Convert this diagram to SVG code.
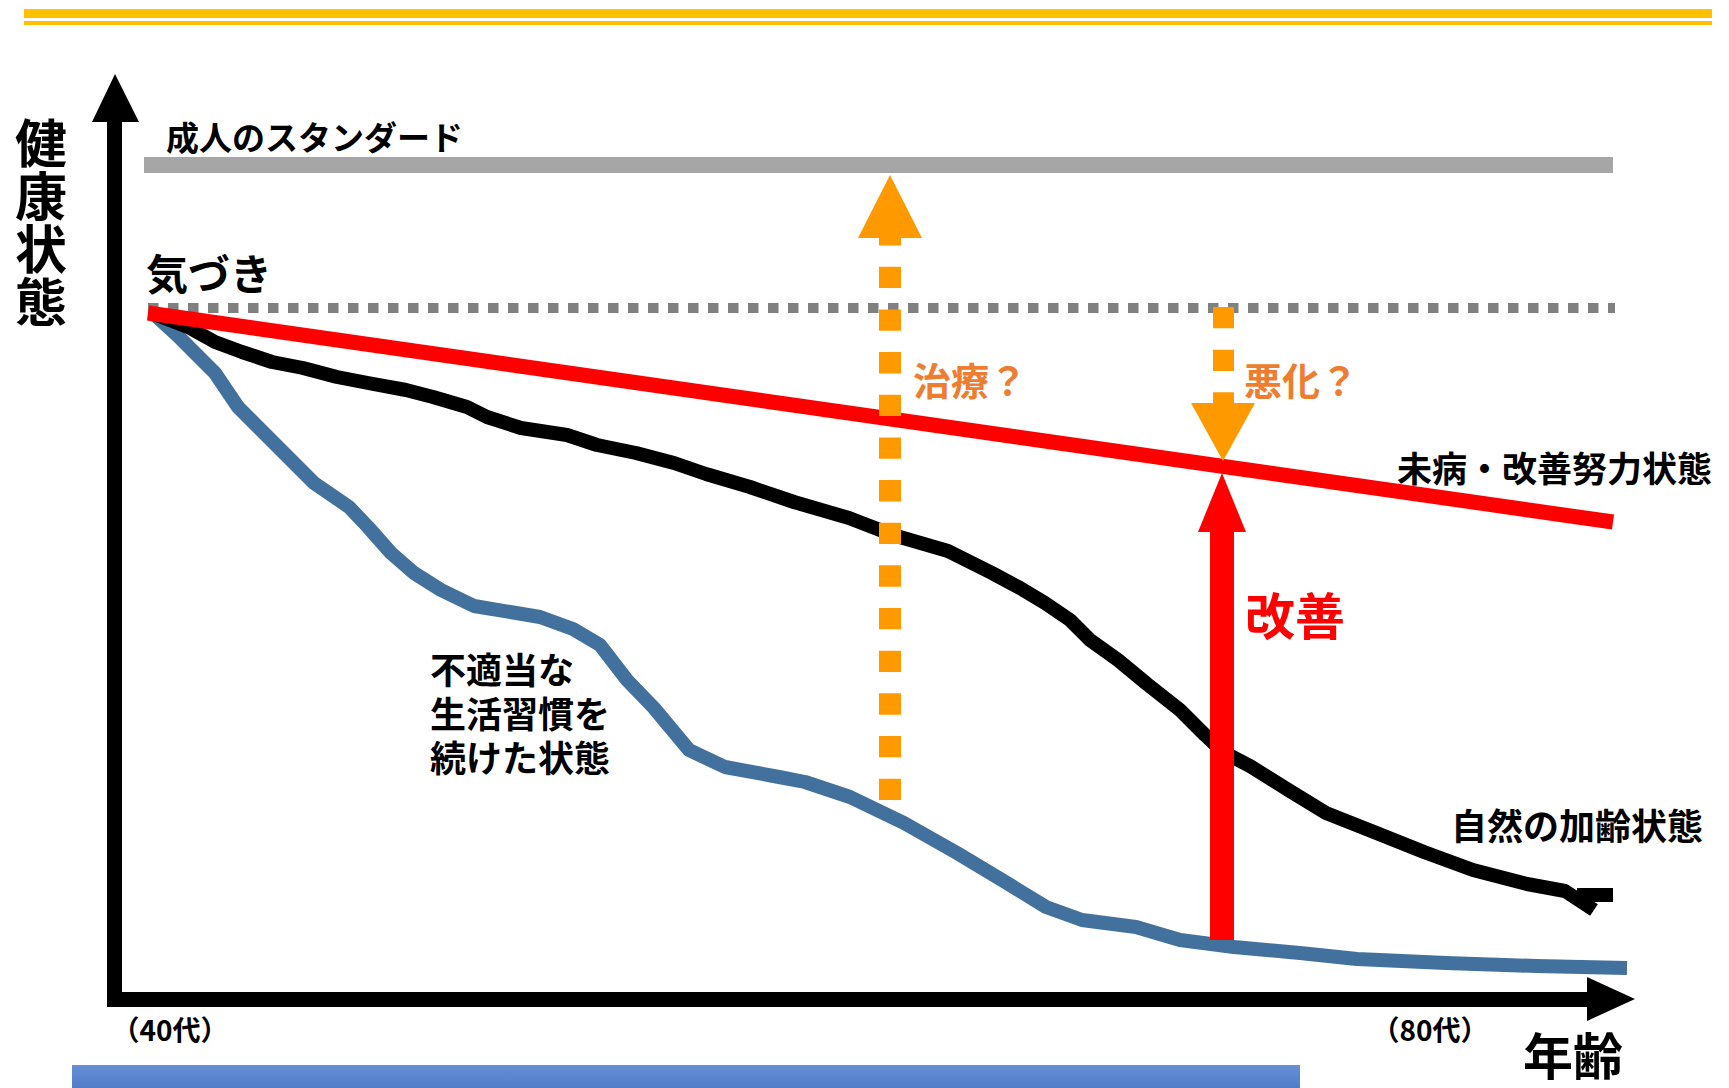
<svg xmlns="http://www.w3.org/2000/svg" width="1729" height="1088" viewBox="0 0 1729 1088">
<defs>
<style>
.t{font-family:"Noto Sans CJK JP","Noto Sans CJK SC",sans-serif;font-weight:bold;fill:#000}
.o{fill:#ED7D31}
.r{fill:#FF0000}
.curve{fill:none;stroke-width:14;stroke-linejoin:round;stroke-linecap:butt}
.orange{fill:#FF9900}
.vert{writing-mode:vertical-rl;text-orientation:upright}
</style>
<linearGradient id="bannerGrad" x1="0" y1="0" x2="0" y2="1">
<stop offset="0" stop-color="#6690D4"/>
<stop offset="1" stop-color="#4A77C7"/>
</linearGradient>
</defs>
<rect width="1729" height="1088" fill="#FFFFFF"/>
<g id="header">
<rect x="24" y="9" width="1688" height="9" fill="#FFC000"/>
<rect x="24" y="21" width="1688" height="4" fill="#FFC000"/>
</g>
<g id="reference-lines">
<rect x="144" y="157" width="1469" height="16" fill="#A6A6A6"/>
<line x1="148" y1="308" x2="1615" y2="308" stroke="#808080" stroke-width="10" stroke-dasharray="10.5 9.5"/>
</g>
<g id="curves">
<path id="blue-curve" class="curve" stroke="#41719C" d="M154,314 L177,335 L192,350 L215,373 L238,407 L261,430 L291,460 L314,483 L349,507 L368,527 L391,553 L414,573 L441,590 L474,606 L540,617 L573,629 L600,645 L627,680 L654,708 L689,750 L725,767 L779,777 L805,782 L850,797 L904,823 L957,853 L1002,880 L1046,907 L1082,920 L1136,927 L1180,940 L1234,947 L1300,953 L1357,959 L1446,963 L1536,966 L1627,968"/>
<path id="black-curve" class="curve" stroke="#000000" d="M154,314 L188,327 L215,342 L242,352 L272,362 L303,368 L337,377 L368,383 L406,390 L433,397 L467,407 L487,417 L521,428 L567,435 L597,445 L636,453 L674,463 L706,474 L750,487 L794,502 L849,518 L893,535 L948,551 L992,573 L1020,588 L1045,603 L1070,620 L1090,640 L1118,660 L1147,684 L1180,710 L1205,735 L1223,752 L1250,766 L1290,791 L1326,813 L1379,834 L1424,852 L1473,870 L1527,884 L1565,891 L1594,910 M1577,895 L1613,895"/>
</g>
<g id="connectors">
<line id="red-line" x1="148" y1="313" x2="1613" y2="522" stroke="#FF0000" stroke-width="15"/>
<g id="improve-arrow">
<rect x="1210" y="530" width="24" height="410" fill="#FF0000"/>
<polygon points="1222,473 1198,532 1246,532" fill="#FF0000"/>
</g>
<g id="treatment-arrow">
<line x1="890" y1="800" x2="890" y2="224" stroke="#FF9900" stroke-width="22" stroke-dasharray="21.33 21.33"/>
<polygon class="orange" points="890,175 858,238 922,238"/>
</g>
<g id="worsen-arrow">
<line x1="1223.5" y1="307" x2="1223.5" y2="405" stroke="#FF9900" stroke-width="21" stroke-dasharray="21.33 21.33"/>
<polygon class="orange" points="1191,403 1255,403 1223,461"/>
</g>
</g>
<g id="axes">
<rect x="107" y="120" width="15" height="887" fill="#000"/>
<polygon points="115,74 92,122 139,122" fill="#000"/>
<rect x="107" y="992" width="1482" height="15" fill="#000"/>
<polygon points="1587,977 1635,999 1587,1021" fill="#000"/>
</g>
<g id="label-y-axis">
<text class="t vert" x="41" y="117" font-size="52" letter-spacing="1">健康状態</text>
</g>
<g id="label-standard"><text class="t" x="166" y="150" font-size="33">成人のスタンダード</text></g>
<g id="label-awareness"><text class="t" x="146" y="290" font-size="42">気づき</text></g>
<g id="label-treatment"><text class="t o" x="913" y="395" font-size="38">治療？</text></g>
<g id="label-worsen"><text class="t o" x="1244" y="395" font-size="38">悪化？</text></g>
<g id="label-improve"><text class="t r" x="1245" y="635" font-size="50">改善</text></g>
<g id="label-effort"><text class="t" x="1397" y="482" font-size="35">未病・改善努力状態</text></g>
<g id="label-natural"><text class="t" x="1451" y="840" font-size="36">自然の加齢状態</text></g>
<g id="label-bad-habits"><text class="t" font-size="36"><tspan x="430" y="684">不適当な</tspan><tspan x="430" y="728">生活習慣を</tspan><tspan x="430" y="772">続けた状態</tspan></text></g>
<g id="label-40s"><text class="t" x="170" y="1041" font-size="28" text-anchor="middle">（40代）</text></g>
<g id="label-80s"><text class="t" x="1430" y="1041" font-size="28" text-anchor="middle">（80代）</text></g>
<g id="label-x-axis"><text class="t" x="1523" y="1075" font-size="50">年齢</text></g>
<g id="banner"><rect x="72" y="1065" width="1228" height="30" fill="url(#bannerGrad)"/></g>
</svg>
